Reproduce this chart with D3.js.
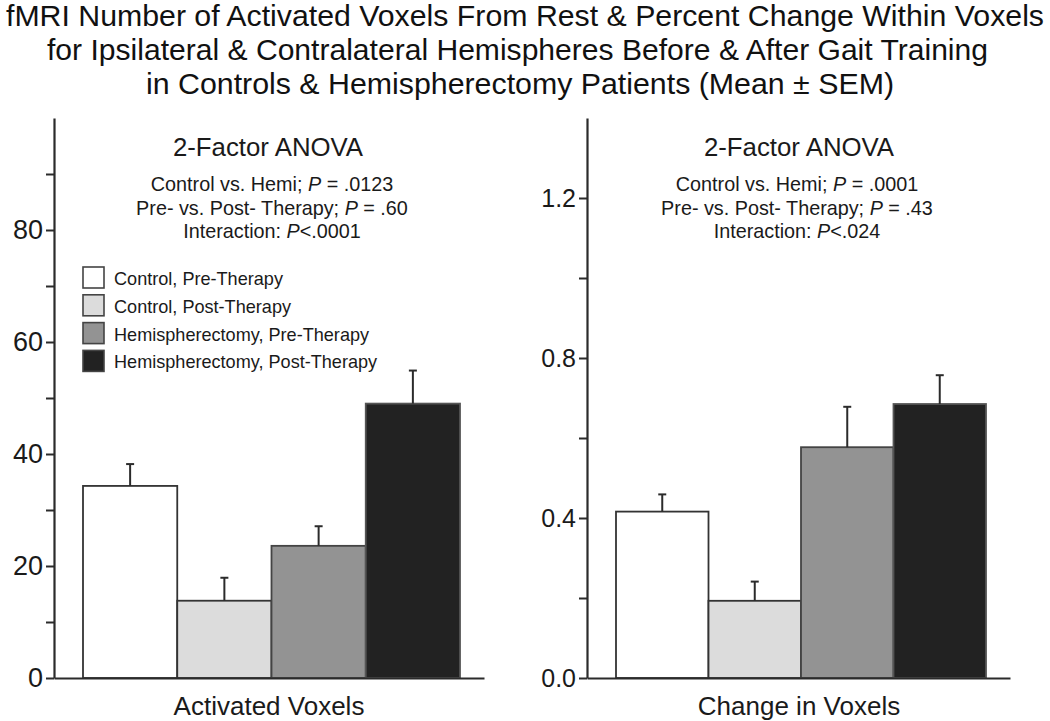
<!DOCTYPE html>
<html>
<head>
<meta charset="utf-8">
<script src="https://cdn.jsdelivr.net/npm/d3@7"></script>
<style>
  html, body { margin: 0; padding: 0; background: #fff; }
  svg { display: block; font-family: "Liberation Sans", Arial, Helvetica, sans-serif; }
</style>
</head>
<body>
<svg id="chart" width="1050" height="721"></svg>
<script>
// ---------- data ----------
const titleLines = [
  "fMRI Number of Activated Voxels From Rest & Percent Change Within Voxels",
  "for Ipsilateral & Contralateral Hemispheres Before & After Gait Training",
  "in Controls & Hemispherectomy Patients (Mean \u00B1 SEM)"
];
const categories = [
  "Control, Pre-Therapy",
  "Control, Post-Therapy",
  "Hemispherectomy, Pre-Therapy",
  "Hemispherectomy, Post-Therapy"
];
const voxelMeans = [34.3, 13.8, 23.6, 49.0];
const voxelSEM   = [3.9, 4.1, 3.5, 5.9];
const changeMeans = [0.416, 0.193, 0.577, 0.685];
const changeSEM   = [0.043, 0.048, 0.101, 0.072];
const voxelMajorTicks = [0, 20, 40, 60, 80];
const voxelMinorTicks = [10, 30, 50, 70, 90];
const changeMajorTicks = [0.0, 0.4, 0.8, 1.2];
const changeMinorTicks = [0.2, 0.6, 1.0];
const voxelStats = [
  ["Control vs. Hemi; ", "P", " = .0123"],
  ["Pre- vs. Post- Therapy; ", "P", " = .60"],
  ["Interaction: ", "P", "<.0001"]
];
const changeStats = [
  ["Control vs. Hemi; ", "P", " = .0001"],
  ["Pre- vs. Post- Therapy; ", "P", " = .43"],
  ["Interaction: ", "P", "<.024"]
];

// ---------- style ----------
const fills = ["#ffffff", "#dcdcdc", "#939393", "#222222"];
const barStrokes = ["#333333", "#333333", "#444444", "#555555"];
const ink = "#2b2b2b";

const svg = d3.select("#chart");

// title
const titleBoxes = [[6, 1038], [47, 941], [146, 748]];
const titleBase = [26, 60, 94];
svg.append("g").selectAll("text").data(titleLines).join("text")
  .attr("x", (d, i) => titleBoxes[i][0])
  .attr("y", (d, i) => titleBase[i])
  .attr("textLength", (d, i) => titleBoxes[i][1])
  .attr("lengthAdjust", "spacingAndGlyphs")
  .attr("font-size", 29.5)
  .attr("fill", "#111")
  .text(d => d);

function panel(opts) {
  const g = svg.append("g");
  const y = d3.scaleLinear().domain(opts.domain).range([678, 118]);
  const x = d3.scaleBand().domain(categories).range(opts.barRange).padding(0);

  // y axis
  const allTicks = opts.major.concat(opts.minor);
  const yAxis = d3.axisLeft(y)
    .tickValues(allTicks)
    .tickSize(8)
    .tickSizeOuter(0)
    .tickPadding(3)
    .tickFormat(d => opts.major.includes(d) ? opts.fmt(d) : "");
  const ya = g.append("g").attr("transform", `translate(${opts.axisX},0)`).call(yAxis);
  ya.select(".domain").attr("stroke", ink).attr("stroke-width", 2.2);
  ya.selectAll(".tick line").attr("stroke", ink).attr("stroke-width", 2);
  ya.selectAll(".tick text").attr("font-size", opts.tickFont).attr("fill", "#1a1a1a")
    .attr("font-family", "Liberation Sans, Arial, sans-serif");

  // bars
  const vals = opts.means.map((m, i) => ({ c: categories[i], m: m, e: opts.sem[i], i: i }));
  g.append("g").selectAll("rect").data(vals).join("rect")
    .attr("x", d => x(d.c))
    .attr("y", d => y(d.m))
    .attr("width", x.bandwidth())
    .attr("height", d => y(0) - y(d.m))
    .attr("fill", d => fills[d.i])
    .attr("stroke", d => barStrokes[d.i])
    .attr("stroke-width", 1.8);

  // error bars
  const eb = g.append("g").attr("stroke", ink).attr("stroke-width", 2);
  eb.selectAll("line.v").data(vals).join("line").attr("class", "v")
    .attr("x1", d => x(d.c) + x.bandwidth() / 2)
    .attr("x2", d => x(d.c) + x.bandwidth() / 2)
    .attr("y1", d => y(d.m))
    .attr("y2", d => y(d.m + d.e));
  eb.selectAll("line.cap").data(vals).join("line").attr("class", "cap")
    .attr("x1", d => x(d.c) + x.bandwidth() / 2 - 4)
    .attr("x2", d => x(d.c) + x.bandwidth() / 2 + 4)
    .attr("y1", d => y(d.m + d.e))
    .attr("y2", d => y(d.m + d.e));

  // x axis baseline
  const xl = d3.scaleLinear().domain([0, 1]).range([opts.axisX, opts.xEnd]);
  const xa = g.append("g").attr("transform", `translate(0,${y(0)})`)
    .call(d3.axisBottom(xl).tickValues([]).tickSizeOuter(0));
  xa.select(".domain").attr("stroke", ink).attr("stroke-width", 2.2);

  // x label
  g.append("text").attr("x", opts.labelX).attr("y", 715)
    .attr("text-anchor", "middle").attr("font-size", 26).attr("fill", "#1a1a1a")
    .text(opts.label);

  // annotation
  g.append("text").attr("x", opts.annX).attr("y", 156)
    .attr("text-anchor", "middle").attr("font-size", 25.8).attr("fill", "#1a1a1a")
    .text("2-Factor ANOVA");
  const st = g.append("g").selectAll("text").data(opts.stats).join("text")
    .attr("x", opts.statX)
    .attr("y", (d, i) => 191 + i * 23.5)
    .attr("text-anchor", "middle").attr("font-size", 19.8).attr("fill", "#1a1a1a");
  st.each(function(d) {
    const t = d3.select(this);
    t.append("tspan").text(d[0]);
    t.append("tspan").attr("font-style", "italic").text(d[1]);
    t.append("tspan").text(d[2]);
  });
  return g;
}

panel({
  domain: [0, 100], major: voxelMajorTicks, minor: voxelMinorTicks,
  fmt: d3.format("d"), axisX: 54, barRange: [83, 460], xEnd: 484,
  means: voxelMeans, sem: voxelSEM, label: "Activated Voxels", labelX: 269,
  annX: 268, statX: 272, stats: voxelStats, tickFont: 27
});
panel({
  domain: [0, 1.4], major: changeMajorTicks, minor: changeMinorTicks,
  fmt: d3.format(".1f"), axisX: 587, barRange: [616, 986], xEnd: 1010,
  means: changeMeans, sem: changeSEM, label: "Change in Voxels", labelX: 799,
  annX: 799, statX: 797, stats: changeStats, tickFont: 25
});

// legend
const lg = svg.append("g").attr("transform", "translate(83,267)");
const rows = lg.selectAll("g").data(categories).join("g")
  .attr("transform", (d, i) => `translate(0,${i * 27.8})`);
rows.append("rect").attr("width", 21).attr("height", 21)
  .attr("fill", (d, i) => fills[i]).attr("stroke", "#444").attr("stroke-width", 1.6);
rows.append("text").attr("x", 31).attr("y", 18).attr("font-size", 18.1).attr("fill", "#1a1a1a")
  .text(d => d);
</script>
</body>
</html>
